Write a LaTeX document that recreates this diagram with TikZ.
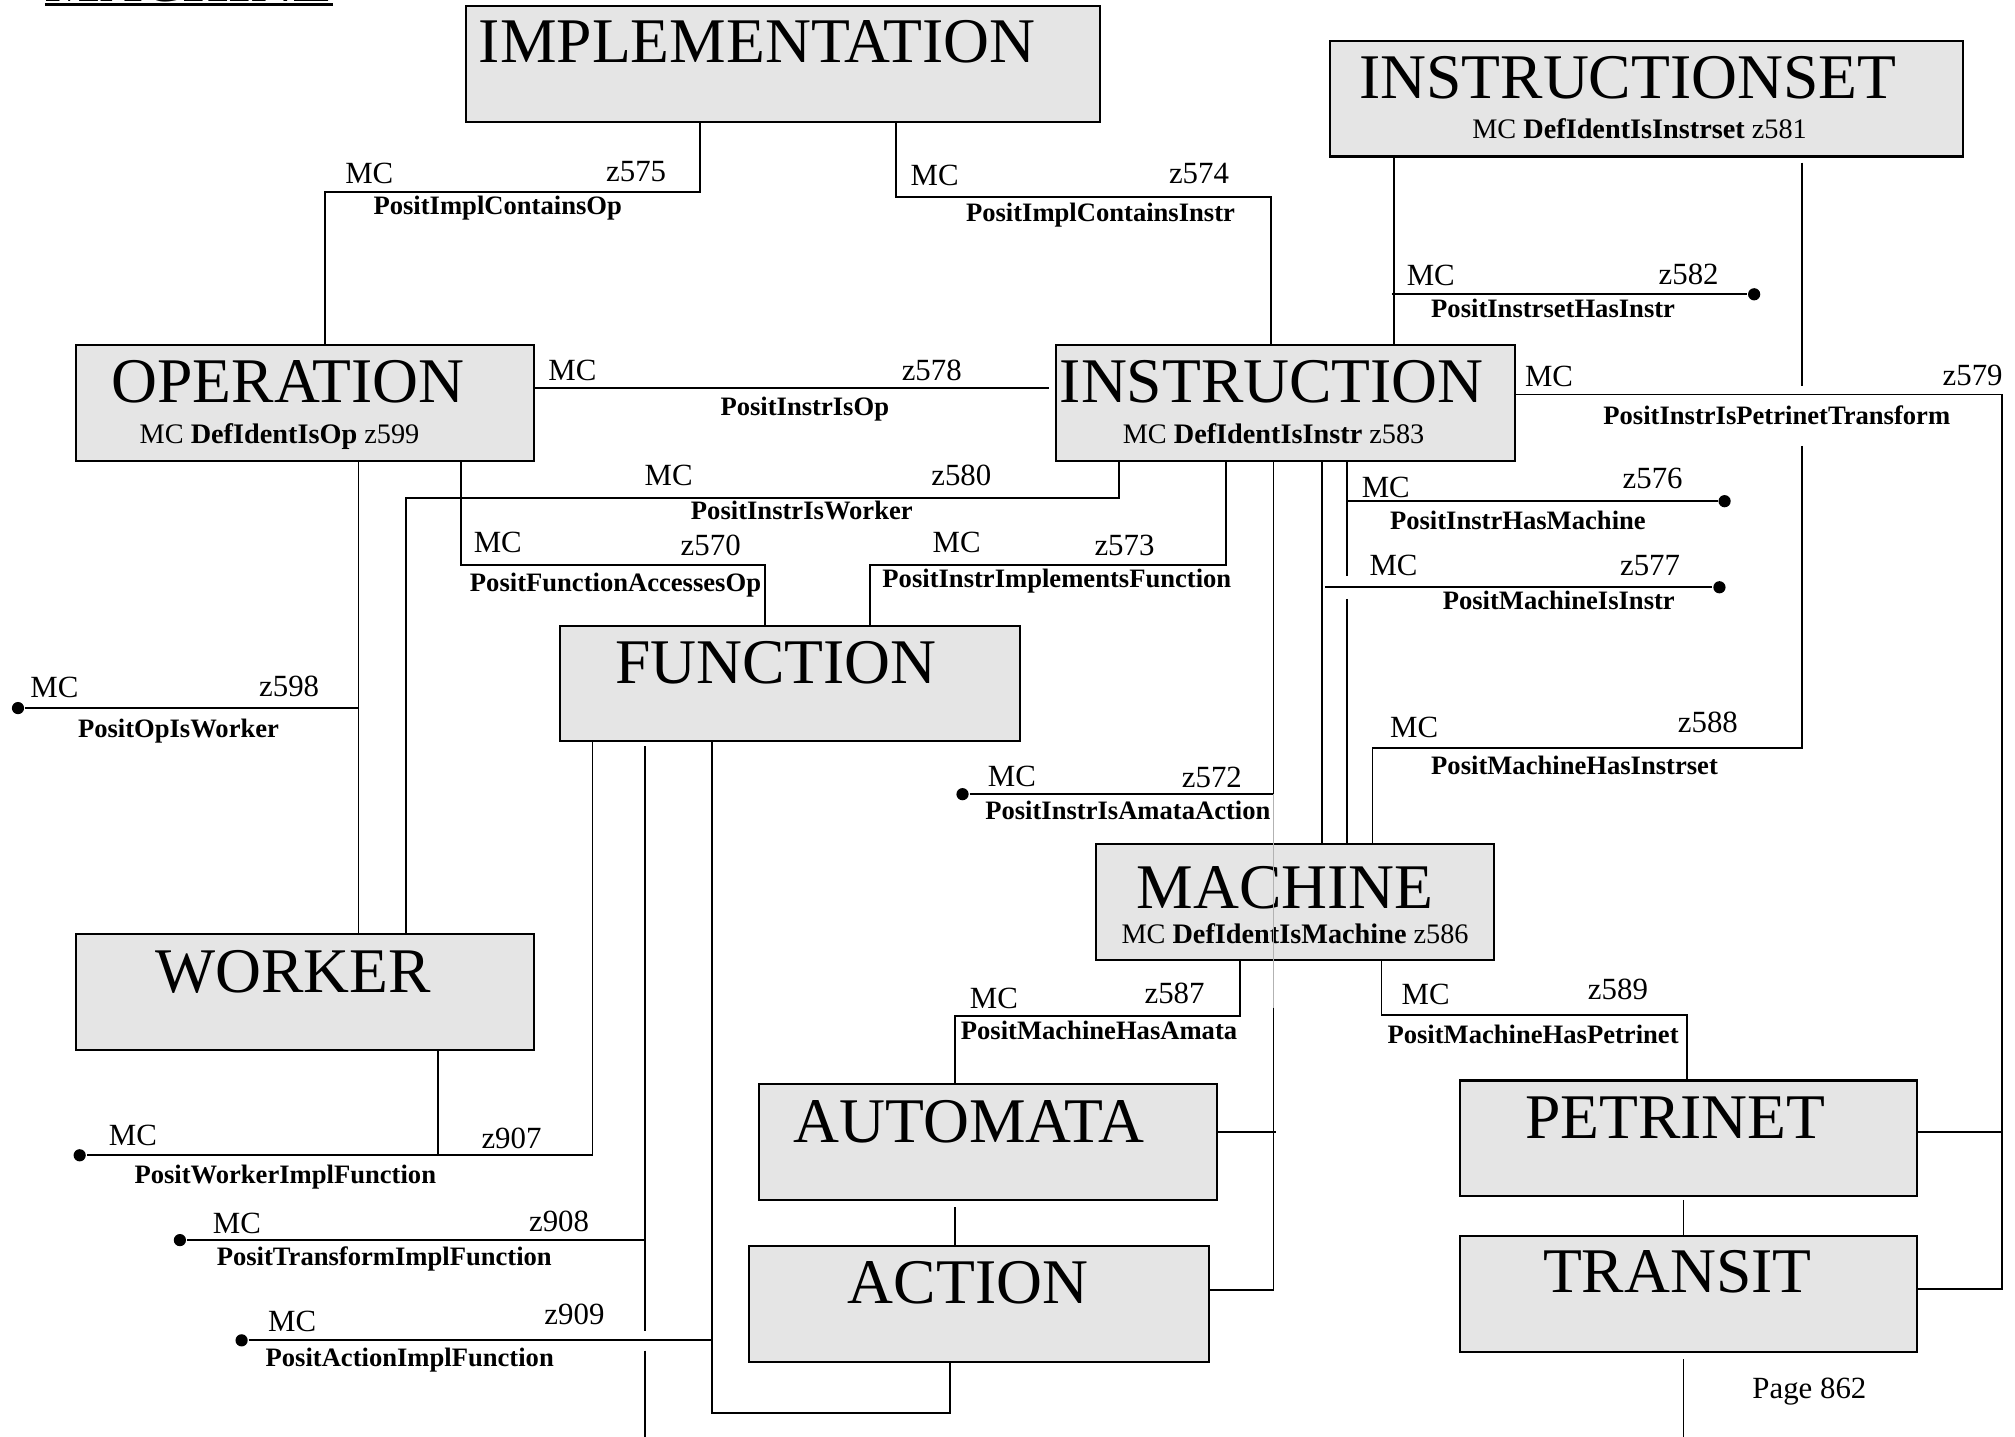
\documentclass[tikz,border=0pt]{standalone}
\usepackage{fontspec}
\setmainfont{Liberation Serif}
\usepackage{tikz}
\usepackage{xcolor}

\definecolor{boxgray}{gray}{0.9}

\begin{document}
\begin{tikzpicture}[
            x = 1pt, y = -1pt, % page measured in points, top down
            line width = 1.4pt, % connector lines
            entity/.style = {shape=rectangle, draw=black, fill=boxgray, line width=1.6pt,
                             anchor=north west, inner sep=0pt, minimum height=90pt},
            boxtitle/.style = {anchor=base west, inner sep=0pt, font=\fontsize{49.5}{50}\selectfont},
            ident/.style = {anchor=base west, inner sep=0pt, font=\fontsize{22}{24}\selectfont},
            mc/.style = {anchor=base west, inner sep=0pt, font=\fontsize{24}{26}\selectfont},
            rel/.style = {anchor=base west, inner sep=0pt, font=\bfseries\fontsize{20.7}{22}\selectfont},
            enddot/.style = {shape=circle, fill=black, inner sep=0pt, minimum size=9.5pt},
            throughline/.style = {draw=gray!60, line width=0.9pt}
        ]
\useasboundingbox (0,0) rectangle (1568,1118);

% page heading (cut at the top)
\node[anchor=base west, inner sep=0pt, font=\bfseries\fontsize{45}{46}\selectfont] (heading) at (35,1.5) {MACHINE};
\draw[line width=2.5pt] ([yshift=-2.3pt]heading.base west) -- ([yshift=-2.3pt]heading.base east);

% entities
\node[entity, minimum width=493pt] (impl) at (362,4) {};
\node[entity, minimum width=493pt] (iset) at (1034,31) {};
\node[entity, minimum width=357pt] (op) at (58,268) {};
\node[entity, minimum width=357pt] (instr) at (821,268) {};
\node[entity, minimum width=358pt] (func) at (435,486) {};
\node[entity, minimum width=310pt] (mach) at (852,656) {};
\node[entity, minimum width=357pt] (wk) at (58,726) {};
\node[entity, minimum width=356pt] (amata) at (590,843) {};
\node[entity, minimum width=358pt] (act) at (582,969) {};
\node[entity, minimum width=356pt] (petri) at (1135,840) {};
\node[entity, minimum width=356pt] (trans) at (1135,961) {};

\node[boxtitle] (impl-t) at ([xshift=10pt,yshift=-45pt]impl.north west) {IMPLEMENTATION};
\node[boxtitle] (iset-t) at ([xshift=23pt,yshift=-46pt]iset.north west) {INSTRUCTIONSET};
\node[boxtitle] (op-t) at ([xshift=28pt,yshift=-45pt]op.north west) {OPERATION};
\node[boxtitle] (instr-t) at ([xshift=3pt,yshift=-45pt]instr.north west) {INSTRUCTION};
\node[boxtitle] (func-t) at ([xshift=43pt,yshift=-46pt]func.north west) {FUNCTION};
\node[boxtitle] (mach-t) at ([xshift=32pt,yshift=-51pt]mach.north west) {MACHINE};
\node[boxtitle] (wk-t) at ([xshift=62pt,yshift=-46pt]wk.north west) {WORKER};
\node[boxtitle] (amata-t) at ([xshift=27pt,yshift=-46pt]amata.north west) {AUTOMATA};
\node[boxtitle] (act-t) at ([xshift=77pt,yshift=-45pt]act.north west) {ACTION};
\node[boxtitle] (petri-t) at ([xshift=51pt,yshift=-46pt]petri.north west) {PETRINET};
\node[boxtitle] (trans-t) at ([xshift=65pt,yshift=-45pt]trans.north west) {TRANSIT};

\node[ident] (iset-i) at ([xshift=111pt,yshift=-77pt]iset.north west) {MC \textbf{DefIdentIsInstrset} z581};
\node[ident] (op-i) at ([xshift=50pt,yshift=-77pt]op.north west) {MC \textbf{DefIdentIsOp} z599};
\node[ident] (instr-i) at ([xshift=52pt,yshift=-77pt]instr.north west) {MC \textbf{DefIdentIsInstr} z583};
\node[ident] (mach-i) at ([xshift=20pt,yshift=-78pt]mach.north west) {MC \textbf{DefIdentIsMachine} z586};

% free ends and joins
\node[enddot] (end598) at (14,551) {};
\node[enddot] (end582) at (1365,229) {};
\node[enddot] (end576) at (1342,390) {};
\node[enddot] (end577) at (1338,457) {};
\node[enddot] (end572) at (749,618) {};
\node[enddot] (end907) at (62,899) {};
\node[enddot] (end908) at (140,965) {};
\node[enddot] (end909) at (188,1043) {};
\coordinate (join598) at (279,551);
\coordinate (join582) at (1083,229);
\coordinate (join576) at (1048,390);
\coordinate (join577) at (1031,457);
\coordinate (join572) at (991,618);
\coordinate (join908) at (502,965);
\coordinate (join909) at (554,1043);
\coordinate (cut576a) at (1048,448);
\coordinate (cut576b) at (1048,466);
\coordinate (cut588a) at (1402,300);
\coordinate (cut588b) at (1402,347);
\coordinate (cut572) at (991,784);
\coordinate (cut909a) at (502,1036);
\coordinate (cut909b) at (502,1051);
\coordinate (out-func) at (502,1120);
\coordinate (out-trans) at (1310,1120);

% connectors
\draw ([xshift=183pt]impl.south west) -- ++(0,54) -| ([xshift=195pt]op.north west);
\draw ([xshift=335pt]impl.south west) -- ++(0,58) -| ([xshift=168pt]instr.north west);
\draw ([yshift=-34pt]op.north east) -- ([xshift=-5pt,yshift=-34pt]instr.north west);
\draw ([xshift=221pt]op.south west) -- ([xshift=221pt]wk.north west);
\draw (end598) -- (join598);
\draw ([xshift=301pt]op.south west) -- ++(0,80) -| ([xshift=160pt]func.north west);
\draw ([xshift=50pt]instr.south west) -- ++(0,28) -| ([xshift=258pt]wk.north west);
\draw ([xshift=133pt]instr.south west) -- ++(0,80) -| ([xshift=242pt]func.north west);
\draw ([xshift=51pt]iset.south west) -- ([xshift=264pt]instr.north west);
\draw (join582) -- (end582);
\draw ([yshift=-39pt]instr.north east) -- ++(378,0) |- ([yshift=-42pt]trans.north east);
\draw ([yshift=-41pt]petri.north east) -- ++(65,0);
\draw ([xshift=227pt]instr.south west) -- (cut576a);
\draw (cut576b) -- ([xshift=196pt]mach.north west);
\draw (join576) -- (end576);
\draw ([xshift=208pt]instr.south west) -- ([xshift=177pt]mach.north west);
\draw (join577) -- (end577);
\draw ([xshift=368pt,yshift=-4pt]iset.south west) -- (cut588a);
\draw (cut588b) -- ++(0,235) -| ([xshift=216pt]mach.north west);
\draw ([xshift=170pt]instr.south west) -- (join572);
\draw (end572) -- (join572);
\draw[throughline] (join572) -- (cut572);
\draw (cut572) |- ([yshift=-35pt]act.north east);
\draw ([yshift=-38pt]amata.north east) -- ++(45,0);
\draw ([xshift=113pt]mach.south west) -- ++(0,43) -| ([xshift=153pt]amata.north west);
\draw ([xshift=153pt,yshift=-5pt]amata.south west) -- ([xshift=161pt]act.north west);
\draw ([xshift=223pt]mach.south west) -- ++(0,42) -| ([xshift=178pt]petri.north west);
\draw ([xshift=175pt,yshift=-2pt]petri.south west) -- ([xshift=175pt]trans.north west);
\draw ([xshift=175pt,yshift=-5pt]trans.south west) -- (out-trans);
\draw ([xshift=26pt]func.south west) |- (end907);
\draw ([xshift=283pt]wk.south west) -- ++(0,82);
\draw ([xshift=67pt,yshift=-3pt]func.south west) -- (cut909a);
\draw (cut909b) -- (out-func);
\draw (end908) -- (join908);
\draw ([xshift=119pt]func.south west) -- ++(0,522) -| ([xshift=157pt]act.south west);
\draw (end909) -- (join909);

% connector labels
\node[mc] (mc575) at (268,143) {MC};
\node[mc] (z575) at (471,141) {z575};
\node[rel] (r575) at (290,167) {PositImplContainsOp};
\node[mc] (mc574) at (708,144) {MC};
\node[mc] (z574) at (909,143) {z574};
\node[rel] (r574) at (751,172) {PositImplContainsInstr};
\node[mc] (mc578) at (426,296) {MC};
\node[mc] (z578) at (701,296) {z578};
\node[rel] (r578) at (560,323) {PositInstrIsOp};
\node[mc] (mc580) at (501,378) {MC};
\node[mc] (z580) at (724,378) {z580};
\node[rel] (r580) at (537,404) {PositInstrIsWorker};
\node[mc] (mc570) at (368,430) {MC};
\node[mc] (z570) at (529,432) {z570};
\node[rel] (r570) at (365,460) {PositFunctionAccessesOp};
\node[mc] (mc573) at (725,430) {MC};
\node[mc] (z573) at (851,432) {z573};
\node[rel] (r573) at (686,457) {PositInstrImplementsFunction};
\node[mc] (mc598) at (23,543) {MC};
\node[mc] (z598) at (201,542) {z598};
\node[rel] (r598) at (60,574) {PositOpIsWorker};
\node[mc] (mc582) at (1094,222) {MC};
\node[mc] (z582) at (1290,221) {z582};
\node[rel] (r582) at (1113,247) {PositInstrsetHasInstr};
\node[mc] (mc579) at (1186,301) {MC};
\node[mc] (z579) at (1511,300) {z579};
\node[rel] (r579) at (1247,330) {PositInstrIsPetrinetTransform};
\node[mc] (mc576) at (1059,387) {MC};
\node[mc] (z576) at (1262,380) {z576};
\node[rel] (r576) at (1081,412) {PositInstrHasMachine};
\node[mc] (mc577) at (1065,448) {MC};
\node[mc] (z577) at (1260,448) {z577};
\node[rel] (r577) at (1122,474) {PositMachineIsInstr};
\node[mc] (mc588) at (1081,574) {MC};
\node[mc] (z588) at (1305,570) {z588};
\node[rel] (r588) at (1113,603) {PositMachineHasInstrset};
\node[mc] (mc572) at (768,612) {MC};
\node[mc] (z572) at (919,613) {z572};
\node[rel] (r572) at (766,638) {PositInstrIsAmataAction};
\node[mc] (mc587) at (754,785) {MC};
\node[mc] (z587) at (890,781) {z587};
\node[rel] (r587) at (747,809) {PositMachineHasAmata};
\node[mc] (mc589) at (1090,782) {MC};
\node[mc] (z589) at (1235,778) {z589};
\node[rel] (r589) at (1079,812) {PositMachineHasPetrinet};
\node[mc] (mc907) at (84,891) {MC};
\node[mc] (z907) at (374,894) {z907};
\node[rel] (r907) at (104,921) {PositWorkerImplFunction};
\node[mc] (mc908) at (165,960) {MC};
\node[mc] (z908) at (411,958) {z908};
\node[rel] (r908) at (168,985) {PositTransformImplFunction};
\node[mc] (mc909) at (208,1036) {MC};
\node[mc] (z909) at (423,1031) {z909};
\node[rel] (r909) at (206,1063) {PositActionImplFunction};

\node[mc] (page) at (1363,1088) {Page 862};
\end{tikzpicture}
\end{document}
